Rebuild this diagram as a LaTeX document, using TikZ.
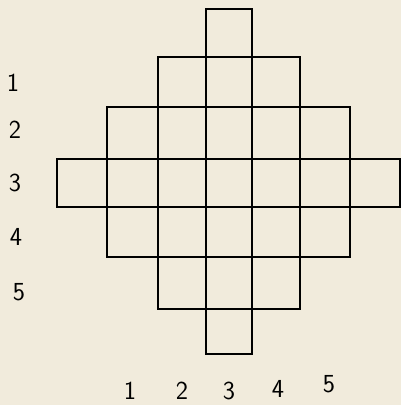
\documentclass[tikz,border=0pt]{standalone}
\definecolor{paper}{HTML}{F1EBDC}
\tikzset{
  cell/.style={draw=black, line width=2.1pt, line join=miter},
  lab/.style={font=\sffamily\fontsize{26}{26}\selectfont, text=black, inner sep=0pt}
}
\begin{document}
\begin{tikzpicture}[x=1pt,y=-1pt]
\fill[paper] (0,0) rectangle (401,405);
\useasboundingbox (0,0) rectangle (401,405);
% column boundaries
\def\xs{{57,107,158,206,252,300,350,400}}
% rows: top y, bottom y, first col, last col
\foreach \yt/\yb/\ca/\cb in {9/57/3/3, 57/107/2/4, 107/159/1/5, 159/207/0/6, 207/257/1/5, 257/309/2/4, 309/354/3/3}{
  \foreach \c in {\ca,...,\cb}{
    \pgfmathsetmacro{\xl}{\xs[\c]}
    \pgfmathsetmacro{\xr}{\xs[\c+1]}
    \draw[cell] (\xl,\yt) rectangle (\xr,\yb);
  }
}
% row labels
\node[lab] (r1) at (13,83) {1};
\node[lab] (r2) at (15,130) {2};
\node[lab] (r3) at (15,183) {3};
\node[lab] (r4) at (16,237) {4};
\node[lab] (r5) at (19,292) {5};
% column labels
\node[lab] (c1) at (130,391) {1};
\node[lab] (c2) at (182,391) {2};
\node[lab] (c3) at (229,391) {3};
\node[lab] (c4) at (278,389) {4};
\node[lab] (c5) at (329,384) {5};
\end{tikzpicture}
\end{document}
